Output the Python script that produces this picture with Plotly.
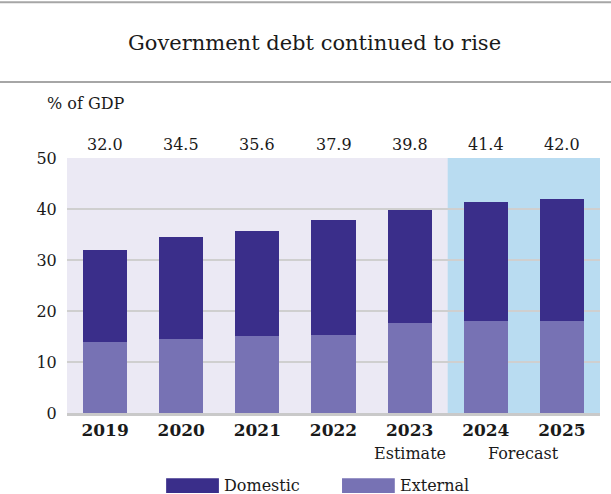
import plotly.graph_objects as go

years = ["2019", "2020", "2021", "2022", "2023", "2024", "2025"]
totals = [32.0, 34.5, 35.6, 37.9, 39.8, 41.4, 42.0]
external = [13.9, 14.5, 15.1, 15.3, 17.6, 18.0, 18.0]
domestic = [round(t - e, 1) for t, e in zip(totals, external)]
y_ticks = [0, 10, 20, 30, 40, 50]

DOMESTIC_COLOR = "#3a2e8a"
EXTERNAL_COLOR = "#7772b4"
HIST_BG = "#ebe9f4"
FORECAST_BG = "#b9dcf1"
FONT = "'DejaVu Serif', 'Liberation Serif', serif"
TEXT = "#1a1a1a"

fig = go.Figure()
fig.add_trace(go.Bar(x=years, y=external, name="External", marker=dict(color=EXTERNAL_COLOR, line=dict(width=0))))
fig.add_trace(go.Bar(x=years, y=domestic, name="Domestic", marker=dict(color=DOMESTIC_COLOR, line=dict(width=0))))

shapes = [
    # forecast shading
    dict(type="rect", xref="x", yref="y", x0=4.5, x1=6.5, y0=0, y1=50,
         fillcolor=FORECAST_BG, line=dict(width=0), layer="below"),
    # title rules
    dict(type="line", xref="paper", yref="paper", x0=-0.13, x1=1.03, y0=1.611, y1=1.611,
         line=dict(color="#a6a6a6", width=2)),
    dict(type="line", xref="paper", yref="paper", x0=-0.13, x1=1.03, y0=1.298, y1=1.298,
         line=dict(color="#a6a6a6", width=2)),
]

annotations = [
    dict(text="Government debt continued to rise", xref="paper", yref="paper",
         x=0.465, y=1.45, showarrow=False, xanchor="center", yanchor="middle",
         font=dict(family=FONT, size=21, color=TEXT)),
    dict(text="% of GDP", xref="paper", yref="paper", x=-0.042, y=1.215,
         showarrow=False, xanchor="left", yanchor="middle",
         font=dict(family=FONT, size=16, color=TEXT)),
    dict(text="Estimate", xref="x", yref="paper", x=4, y=-0.16,
         showarrow=False, xanchor="center", yanchor="middle",
         font=dict(family=FONT, size=16, color=TEXT)),
    dict(text="Forecast", xref="x", yref="paper", x=5.5, y=-0.16,
         showarrow=False, xanchor="center", yanchor="middle",
         font=dict(family=FONT, size=16, color=TEXT)),
]

# totals printed above each bar, just above the plot area (x is the category index)
for i, t in enumerate(totals):
    annotations.append(dict(text=f"{t:.1f}", xref="x", yref="paper", x=i, y=1.051,
                            showarrow=False, xanchor="center", yanchor="middle",
                            font=dict(family=FONT, size=16, color=TEXT)))

# custom legend with wide swatches
legend_items = [("Domestic", DOMESTIC_COLOR, 0.186), ("External", EXTERNAL_COLOR, 0.516)]
for label, color, x0 in legend_items:
    shapes.append(dict(type="rect", xref="paper", yref="paper", x0=x0, x1=x0 + 0.099,
                       y0=-0.314, y1=-0.256, fillcolor=color, line=dict(width=0)))
    annotations.append(dict(text=label, xref="paper", yref="paper", x=x0 + 0.105, y=-0.285,
                            showarrow=False, xanchor="left", yanchor="middle",
                            font=dict(family=FONT, size=16, color=TEXT)))

fig.update_layout(
    width=611, height=494,
    margin=dict(l=67, r=11, t=158, b=81),
    barmode="stack", bargap=0.42,
    paper_bgcolor="white", plot_bgcolor=HIST_BG,
    showlegend=False,
    shapes=shapes, annotations=annotations,
    font=dict(family=FONT, color=TEXT),
)
fig.update_xaxes(
    type="category", range=[-0.5, 6.5], showgrid=False,
    showline=True, linecolor="#c9c9c9", linewidth=3,
    tickfont=dict(family=FONT, size=17, color=TEXT),
    tickprefix="<b>", ticksuffix="</b>", ticks="", ticklen=4,
)
fig.update_yaxes(
    range=[0, 50], tickvals=y_ticks, showgrid=True, gridcolor="#cfcfcf", gridwidth=1.5,
    zeroline=False, tickfont=dict(family=FONT, size=16, color=TEXT),
    ticks="outside", ticklen=6, tickcolor="rgba(0,0,0,0)",
)

fig.write_html("out.html")
